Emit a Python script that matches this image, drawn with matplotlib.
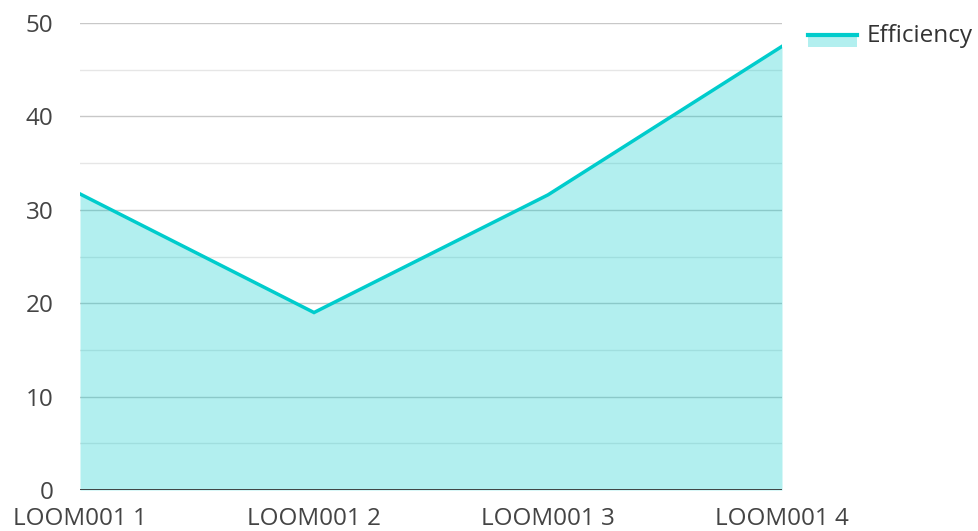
import matplotlib
matplotlib.use("Agg")
import matplotlib.pyplot as plt
from matplotlib.patches import Rectangle
from matplotlib.lines import Line2D

categories = ["LOOM001 1", "LOOM001 2", "LOOM001 3", "LOOM001 4"]
efficiency = [31.7, 19.0, 31.6, 47.5]
y_ticks = [0, 10, 20, 30, 40, 50]
series_name = "Efficiency"

plt.rcParams['font.family'] = ['Open Sans', 'DejaVu Sans']
line_color = "#00CCCC"

fig = plt.figure(figsize=(9.79, 5.31), dpi=100)
ax = fig.add_axes([80/979, 41/531, 702/979, 467/531])
x = list(range(len(categories)))

for v in range(5, 50, 10):
    ax.axhline(v, color="#e6e6e6", lw=1, zorder=0)
for v in y_ticks[1:]:
    ax.axhline(v, color="#c8c8c8", lw=1, zorder=0)

ax.fill_between(x, efficiency, 0, color=line_color, alpha=0.3, lw=0, zorder=1)
ax.plot(x, efficiency, color=line_color, lw=2.5, zorder=2, solid_joinstyle='miter')
ax.axhline(0, color="#333333", lw=2, zorder=3)

ax.set_xlim(0, len(categories) - 1)
ax.set_ylim(0, 50)
ax.set_yticks(y_ticks)
ax.set_xticks(x)
ax.set_xticklabels(categories)
for s in ax.spines.values():
    s.set_visible(False)
ax.tick_params(axis='both', length=0, labelsize=17.5, colors="#444444")
ax.tick_params(axis='y', pad=19)
ax.tick_params(axis='x', pad=12)

# legend
fig.add_artist(Rectangle((808/979, (531-47)/531), 49/979, 12/531, transform=fig.transFigure,
                         facecolor=line_color, alpha=0.3, lw=0))
fig.add_artist(Line2D([808/979, 857/979], [(531-35)/531]*2, transform=fig.transFigure,
                      color=line_color, lw=3))
fig.text(867/979, (531-36)/531, series_name, fontsize=17.5, color="#333333", va='center', ha='left')

fig.savefig("out.png", dpi=100)
